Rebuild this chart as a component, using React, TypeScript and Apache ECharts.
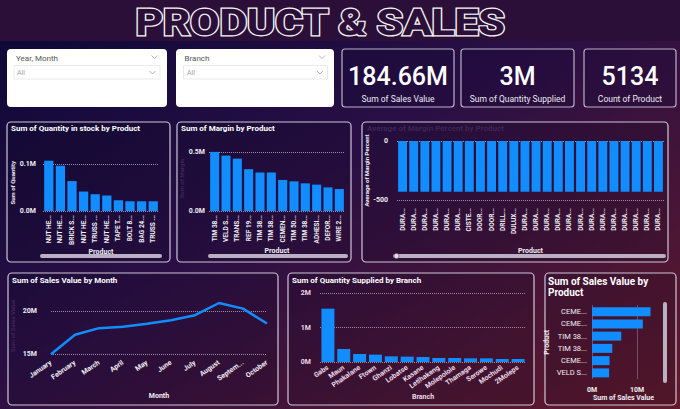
import React, { useEffect, useRef } from 'react';
import * as echarts from 'echarts';

// ---------- DATA ----------
const stockProducts = ['NUT HE...', 'NUT HE...', 'BRICK S...', 'NUT HE...', 'TRUSS ...', 'NUT HE...', 'TAPE T...', 'BOLT 8...', 'BAG 24...', 'TRUSS ...'];
const stockValues = [107000, 96400, 63600, 41400, 35700, 32900, 22900, 20700, 20700, 20700];

const marginProducts = ['TIM 38...', 'VELD S...', 'TRANS...', 'REF 19...', 'TIM 38...', 'TIM 38...', 'CEMEN...', 'TIM 50...', 'TIM 38...', 'ADHESI...', 'DEFOR...', 'WIRE 2...'];
const marginValues = [500000, 469000, 443000, 354000, 326000, 326000, 263000, 251000, 234000, 223000, 200000, 186000];

const pctProducts = ['DURA...', 'DURA...', 'DURA...', 'DURA...', 'DURA...', 'DURA...', 'CISTE...', 'DOOR...', 'DOOR...', 'DRILL...', 'DULUX...', 'DURA...', 'DURA...', 'DURA...', 'DURA...', 'DURA...', 'DURA...', 'DURA...', 'DURA...', 'DURA...', 'DURA...', 'DURA...', 'DURA...', 'DURA...'];
const pctValues = [-430, -430, -430, -430, -430, -430, -430, -430, -430, -430, -430, -430, -430, -430, -430, -430, -430, -430, -430, -430, -430, -430, -430, -430];

const months = ['January', 'February', 'March', 'April', 'May', 'June', 'July', 'August', 'September', 'October'];
const monthSales = [14980000, 17230000, 18000000, 18150000, 18500000, 18920000, 19500000, 20920000, 20270000, 18540000];

const branches = ['Gabs', 'Maun', 'Phakalane', 'Ftown', 'Ghanzi', 'Lobatse', 'Kasane', 'Letlhakeng', 'Molepolole', 'Thamaga', 'Serowe', 'Mochudi', '2Moleps'];
const branchQty = [1546000, 377000, 232000, 213000, 164000, 155000, 145000, 116000, 116000, 106000, 106000, 87000, 87000];

const salesProducts = ['CEME...', 'CEME...', 'TIM 38...', 'TIM 38...', 'CEME...', 'VELD S...'];
const salesValues = [13000000, 11300000, 6500000, 4500000, 3900000, 3800000];

const kpiValues = ['184.66M', '3M', '5134'];
const kpiLabels = ['Sum of Sales Value', 'Sum of Quantity Supplied', 'Count of Product'];

// ---------- STYLE ----------
const FONT = 'Roboto, "Noto Sans", sans-serif';
const BLUE = '#118DFF';
const LABEL = '#f0eef4';
const GRIDC = '#9a8cab';
const FAINT = '#3d2654';

const txt = (x: number, y: number, text: string, size: number, color: string, weight: string = 'normal', align: string = 'left') => ({
  type: 'text',
  x,
  y,
  style: {
    text,
    fill: color,
    fontSize: size,
    fontFamily: FONT,
    fontWeight: weight,
    align,
    verticalAlign: 'middle',
    textAlign: align,
    textVerticalAlign: 'middle',
  },
});

const panel = (x: number, y: number, w: number, h: number) => ({
  type: 'rect',
  shape: { x, y, width: w, height: h, r: 4 },
  style: { fill: 'rgba(12,4,30,0.18)', stroke: '#cdc6d6', lineWidth: 1.2 },
});

const chevron = (x: number, y: number) => ({
  type: 'polyline',
  shape: { points: [[x - 3, y - 1.5], [x, y + 1.5], [x + 3, y - 1.5]] },
  style: { stroke: '#a0a0a0', lineWidth: 0.8, fill: 'none' },
});

const hbar = (x: number, y: number, w: number) => ({
  type: 'rect',
  shape: { x, y, width: w, height: 4, r: 2 },
  style: { fill: '#b9b1c3' },
});

const axisLbl = (extra: any = {}) => ({
  color: LABEL,
  fontSize: 7,
  fontWeight: 'bold',
  fontFamily: FONT,
  ...extra,
});

const nameStyle = (color: string = LABEL, size: number = 7) => ({
  color,
  fontSize: size,
  fontWeight: 'bold',
  fontFamily: FONT,
});

const split = (color: string = GRIDC) => ({
  show: true,
  showMaxLine: false,
  lineStyle: { type: 'dotted', color, width: 1 },
});

const fmtM1 = (v: number) => (v / 1e6).toFixed(1) + 'M';
const fmtM0 = (v: number) => Math.round(v / 1e6) + 'M';

const titleStyle = (stroke: string, lw: number) => ({
  text: 'PRODUCT & SALES',
  fill: '#2b0f38',
  stroke,
  lineWidth: lw,
  fontSize: 37,
  fontWeight: 'bold',
  fontFamily: FONT,
  align: 'center',
  verticalAlign: 'middle',
  textAlign: 'center',
  textVerticalAlign: 'middle',
});

function buildOption(): any {
  const graphic: any[] = [
    {
      type: 'rect',
      shape: { x: 0, y: 0, width: 680, height: 409 },
      style: {
        fill: {
          type: 'linear', x: 0, y: 0, x2: 1, y2: 1,
          colorStops: [
            { offset: 0, color: '#0a0836' },
            { offset: 0.45, color: '#2a0f45' },
            { offset: 1, color: '#621a2a' },
          ],
        },
      },
    },
    { type: 'rect', shape: { x: 0, y: 0, width: 680, height: 41 }, style: { fill: '#2b0f38' } },
    { type: 'text', x: 320, y: 22.5, scaleX: 1.15, style: titleStyle('#f4f4f4', 3) },
    { type: 'text', x: 320, y: 22.5, scaleX: 1.15, style: titleStyle('#7d6e8a', 0.6) },
    // slicers
    { type: 'rect', shape: { x: 7, y: 49, width: 160, height: 58, r: 4 }, style: { fill: '#ffffff' } },
    txt(16, 58, 'Year, Month', 8, '#555555'),
    chevron(154.5, 57),
    { type: 'rect', shape: { x: 14, y: 65.5, width: 146, height: 13.5 }, style: { fill: '#ffffff', stroke: '#e4e4e4', lineWidth: 0.8 } },
    txt(17, 72.5, 'All', 7, '#a5a5a5'),
    chevron(152.5, 72.5),
    { type: 'rect', shape: { x: 176, y: 49, width: 158, height: 58, r: 4 }, style: { fill: '#ffffff' } },
    txt(184.5, 58, 'Branch', 8, '#555555'),
    chevron(322, 57),
    { type: 'rect', shape: { x: 183.5, y: 65.5, width: 144, height: 13.5 }, style: { fill: '#ffffff', stroke: '#e4e4e4', lineWidth: 0.8 } },
    txt(187, 72.5, 'All', 7, '#a5a5a5'),
    chevron(320, 72.5),
  ];

  // KPI cards
  const cards = [
    [342, 112],
    [461, 113],
    [584, 92],
  ];
  cards.forEach(([x, w], i) => {
    graphic.push({ type: 'rect', shape: { x, y: 49, width: w, height: 58, r: 3 }, style: { fill: 'rgba(25,8,55,0.35)', stroke: '#b9b1c6', lineWidth: 1.2 } });
    graphic.push(txt(x + w / 2, 76, kpiValues[i], 25, '#ffffff', '500', 'center'));
    graphic.push(txt(x + w / 2, 99, kpiLabels[i], 8.5, '#ecebf1', 'normal', 'center'));
  });

  // panels
  graphic.push(panel(7, 122, 163, 140));
  graphic.push(panel(177, 122, 174, 140));
  graphic.push(panel(362, 122, 306, 140));
  graphic.push(panel(8, 273, 270, 132));
  graphic.push(panel(288, 273, 246, 132));
  graphic.push(panel(545, 273, 131, 132));

  // panel titles
  graphic.push(txt(11, 128.5, 'Sum of Quantity in stock by Product', 8, '#ffffff', 'bold'));
  graphic.push(txt(181, 128.5, 'Sum of Margin by Product', 8, '#ffffff', 'bold'));
  graphic.push(txt(367, 128.5, 'Average of Margin Percent by Product', 8, FAINT, 'bold'));
  graphic.push(txt(12, 280.5, 'Sum of Sales Value by Month', 8, '#ffffff', 'bold'));
  graphic.push(txt(292, 280.5, 'Sum of Quantity Supplied by Branch', 8, '#ffffff', 'bold'));
  graphic.push(txt(548, 281, 'Sum of Sales Value by', 10, '#ffffff', 'bold'));
  graphic.push(txt(548, 292, 'Product', 10, '#ffffff', 'bold'));

  // scrollbars
  graphic.push(hbar(40, 254, 122));
  graphic.push(hbar(208, 254, 140));
  graphic.push(hbar(393, 254, 273));
  graphic.push({ type: 'circle', shape: { cx: 396.5, cy: 256, r: 2.5 }, style: { fill: '#e6e1ea', stroke: '#6d6278', lineWidth: 0.8 } });
  graphic.push({ type: 'rect', shape: { x: 663, y: 302, width: 4, height: 81, r: 2 }, style: { fill: '#b9b1c3' } });

  const grid = [
    { left: 43, top: 154.6, width: 116, height: 56.4 },
    { left: 209, top: 146, width: 136, height: 65 },
    { left: 397, top: 141, width: 267, height: 59 },
    { left: 51, top: 298, width: 216, height: 56 },
    { left: 320, top: 293, width: 206, height: 69 },
    { left: 592, top: 305.5, width: 63, height: 73.5 },
  ];

  const noLine = { show: false };

  const xAxis: any[] = [
    {
      gridIndex: 0, type: 'category', data: stockProducts, axisLine: noLine, axisTick: noLine,
      axisLabel: axisLbl({ rotate: 90, fontSize: 6.5, margin: 4, interval: 0 }),
      name: 'Product', nameLocation: 'middle', nameGap: 36, nameTextStyle: nameStyle(),
    },
    {
      gridIndex: 1, type: 'category', data: marginProducts, axisLine: noLine, axisTick: noLine,
      axisLabel: axisLbl({ rotate: 90, fontSize: 6.5, margin: 4, interval: 0 }),
      name: 'Product', nameLocation: 'middle', nameGap: 36, nameTextStyle: nameStyle(),
    },
    {
      gridIndex: 2, type: 'category', data: pctProducts, axisLine: { show: false, onZero: false }, axisTick: noLine,
      axisLabel: axisLbl({ rotate: 90, fontSize: 6.5, margin: 8, interval: 0 }),
      name: 'Product', nameLocation: 'middle', nameGap: 47, nameTextStyle: nameStyle(),
    },
    {
      gridIndex: 3, type: 'category', data: months, boundaryGap: false, axisLine: noLine, axisTick: noLine,
      axisLabel: axisLbl({ rotate: 35, margin: 8, interval: 0, formatter: (v: string) => (v.length > 8 ? v.slice(0, 6) + '...' : v) }),
      name: 'Month', nameLocation: 'middle', nameGap: 38, nameTextStyle: nameStyle(),
    },
    {
      gridIndex: 4, type: 'category', data: branches, axisLine: noLine, axisTick: noLine,
      axisLabel: axisLbl({ rotate: 35, margin: 5, interval: 0, color: '#ead9e6' }),
      name: 'Branch', nameLocation: 'middle', nameGap: 31, nameTextStyle: nameStyle('#ead9e6'),
    },
    {
      gridIndex: 5, type: 'value', min: 0, max: 14000000, interval: 10000000,
      axisLine: noLine, axisTick: noLine, splitLine: split(),
      axisLabel: axisLbl({ formatter: fmtM0, margin: 7, showMaxLabel: false }),
      name: 'Sum of Sales Value', nameLocation: 'middle', nameGap: 15, nameTextStyle: nameStyle(),
    },
  ];

  const yAxis: any[] = [
    {
      gridIndex: 0, type: 'value', min: 0, max: 120000, interval: 100000,
      axisLine: noLine, axisTick: noLine, splitLine: split(),
      axisLabel: axisLbl({ formatter: fmtM1, margin: 7, showMaxLabel: false }),
      name: 'Sum of Quantity', nameLocation: 'middle', nameGap: 28, nameTextStyle: nameStyle(LABEL, 6),
    },
    {
      gridIndex: 1, type: 'value', min: 0, max: 550000, interval: 500000,
      axisLine: noLine, axisTick: noLine, splitLine: split(),
      axisLabel: axisLbl({ formatter: fmtM1, margin: 4, showMaxLabel: false }),
      name: 'Sum of Margin', nameLocation: 'middle', nameGap: 24, nameTextStyle: nameStyle(FAINT, 6),
    },
    {
      gridIndex: 2, type: 'value', min: -500, max: 0, interval: 500,
      axisLine: noLine, axisTick: noLine, splitLine: { show: true, lineStyle: { type: 'dotted', color: GRIDC } },
      axisLabel: axisLbl({ margin: 9 }),
      name: 'Average of Margin Percent', nameLocation: 'middle', nameGap: 27, nameTextStyle: nameStyle(LABEL, 6),
    },
    {
      gridIndex: 3, type: 'value', min: 15000000, max: 21500000, interval: 5000000,
      axisLine: noLine, axisTick: noLine, splitLine: split(),
      axisLabel: axisLbl({ formatter: fmtM0, margin: 14, showMaxLabel: false }),
      name: 'Sum of Sales Value', nameLocation: 'middle', nameGap: 36, nameTextStyle: nameStyle(FAINT, 6),
    },
    {
      gridIndex: 4, type: 'value', min: 0, max: 2000000, interval: 1000000,
      axisLine: noLine, axisTick: noLine, splitLine: { show: true, lineStyle: { type: 'dotted', color: '#a6849a' } },
      axisLabel: axisLbl({ formatter: fmtM0, margin: 9, color: '#ead9e6' }),
    },
    {
      gridIndex: 5, type: 'category', data: salesProducts, inverse: true,
      axisLine: noLine, axisTick: noLine,
      axisLabel: axisLbl({ margin: 5, fontWeight: 'normal', fontSize: 7.5, interval: 0 }),
      name: 'Product', nameLocation: 'middle', nameGap: 42, nameTextStyle: nameStyle(),
    },
  ];

  const barStyle = { color: BLUE };

  const series: any[] = [
    { type: 'bar', xAxisIndex: 0, yAxisIndex: 0, data: stockValues, barWidth: '80%', itemStyle: barStyle },
    { type: 'bar', xAxisIndex: 1, yAxisIndex: 1, data: marginValues, barWidth: '80%', itemStyle: barStyle },
    { type: 'bar', xAxisIndex: 2, yAxisIndex: 2, data: pctValues, barWidth: '80%', itemStyle: barStyle },
    { type: 'line', xAxisIndex: 3, yAxisIndex: 3, data: monthSales, symbol: 'none', lineStyle: { color: BLUE, width: 2.5 }, itemStyle: barStyle },
    { type: 'bar', xAxisIndex: 4, yAxisIndex: 4, data: branchQty, barWidth: '82%', itemStyle: barStyle },
    { type: 'bar', xAxisIndex: 5, yAxisIndex: 5, data: salesValues, barWidth: 9, itemStyle: barStyle },
  ];

  return {
    animation: false,
    backgroundColor: 'transparent',
    textStyle: { fontFamily: FONT },
    graphic: { elements: graphic },
    grid,
    xAxis,
    yAxis,
    series,
  };
}

export default function App() {
  const ref = useRef<HTMLDivElement>(null);
  useEffect(() => {
    document.body.style.margin = '0';
    const chart = echarts.init(ref.current as HTMLDivElement, null, { renderer: 'svg' });
    chart.setOption(buildOption());
    return () => chart.dispose();
  }, []);
  return <div ref={ref} style={{ position: 'absolute', left: 0, top: 0, width: 680, height: 409 }} />;
}
